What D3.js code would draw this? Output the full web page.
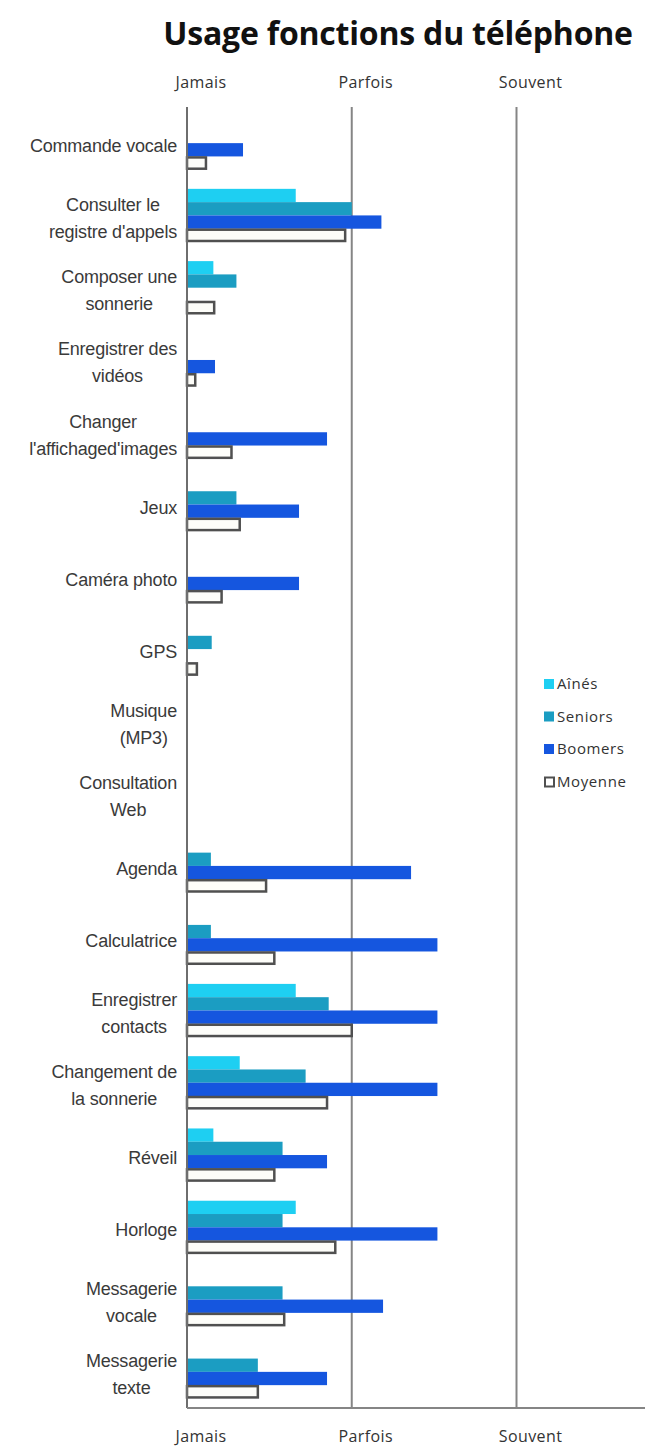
<!DOCTYPE html>
<html><head><meta charset="utf-8">
<script src="https://cdn.jsdelivr.net/npm/d3@7"></script>
<style>body{margin:0;background:#fff} svg{display:block}</style>
</head><body><svg id="c" width="645" height="1448"></svg>
<script>
const categories = [["Commande vocale"],["Consulter le","registre d'appels"],["Composer une","sonnerie"],["Enregistrer des","vidéos"],["Changer","l'affichaged'images"],["Jeux"],["Caméra photo"],["GPS"],["Musique","(MP3)"],["Consultation","Web"],["Agenda"],["Calculatrice"],["Enregistrer","contacts"],["Changement de","la sonnerie"],["Réveil"],["Horloge"],["Messagerie","vocale"],["Messagerie","texte"]];
const series = ["Aînés","Seniors","Boomers","Moyenne"];
const aines   = [0,0.66,0.16,0,0,0,0,0,0,0,0,0,0.66,0.32,0.16,0.66,0,0];
const seniors = [0,1.0,0.30,0,0,0.30,0,0.15,0,0,0.145,0.145,0.86,0.72,0.58,0.58,0.58,0.43];
const boomers = [0.34,1.18,0,0.17,0.85,0.68,0.68,0,0,0,1.36,1.52,1.52,1.52,0.85,1.52,1.19,0.85];
const moyenne = [0.115,0.96,0.165,0.05,0.27,0.32,0.21,0.06,0,0,0.48,0.53,1.0,0.85,0.53,0.90,0.59,0.43];
const tickValues = [0,1,2];
const tickLabels = ["Jamais","Parfois","Souvent"];
const chartTitle = "Usage fonctions du téléphone";

(function(){
const values = [aines, seniors, boomers, moyenne];
const colors = ["#1ecff2","#1b9dc2","#1556df","#ffffff"];

const svg = d3.select("#c");
const pL = 187, pR = 645, pT = 107, pB = 1408;
const x = d3.scaleLinear().domain([0, 2.78]).range([pL, pR]);
const y = d3.scaleBand().domain(d3.range(categories.length)).range([pT, pB]);
const ys = d3.scaleBand().domain(d3.range(series.length)).range([0, y.bandwidth()]).paddingOuter(0.72);

svg.append("text").attr("x", 398).attr("y", 45).attr("text-anchor","middle")
  .style("font-family","'Open Sans'").style("font-weight","bold").style("font-size","32px").style("fill","#111")
  .style("letter-spacing","-0.2px")
  .text(chartTitle);

svg.selectAll("line.grid").data(tickValues.slice(1)).join("line").attr("class","grid")
  .attr("x1", d=>x(d)).attr("x2", d=>x(d)).attr("y1", pT).attr("y2", pB)
  .attr("stroke","#858585").attr("stroke-width",2);

const g = svg.append("g");
categories.forEach((c, i) => {
  series.forEach((s, j) => {
    const v = values[j][i];
    const y0 = y(i) + ys(j);
    if (j < 3) {
      if (v > 0) g.append("rect").attr("x", x(0)).attr("y", y0).attr("width", x(v)-x(0)).attr("height", ys.bandwidth()).attr("fill", colors[j]);
    } else {
      g.append("rect").attr("x", x(0)).attr("y", y0+1).attr("width", Math.max(0, x(v)-x(0))).attr("height", ys.bandwidth()-2)
        .attr("fill","#fdfdf9").attr("stroke","#505050").attr("stroke-width",2.5);
    }
  });
});

svg.append("line").attr("x1", x(0)).attr("x2", x(0)).attr("y1", pT).attr("y2", pB).attr("stroke","#6e6e6e").attr("stroke-width",2);
svg.append("line").attr("x1", x(0)).attr("x2", pR).attr("y1", pB).attr("y2", pB).attr("stroke","#858585").attr("stroke-width",2);

[88, 1442].forEach(yy => {
  svg.append("g").selectAll("text").data(tickValues).join("text")
    .attr("x", d=>x(d)+14).attr("y", yy).attr("text-anchor","middle")
    .style("font-family","'Open Sans'").style("font-size","16px").style("letter-spacing","0.4px").style("fill","#333")
    .text((d,i)=>tickLabels[i]);
});

const labelRight = 177;
categories.forEach((lines, i) => {
  const cy = y(i) + y.bandwidth()/2;
  const t = svg.append("g");
  const lh = 27;
  const texts = lines.map((l, k) => t.append("text")
    .attr("y", cy + (k - (lines.length-1)/2)*lh + 9)
    .style("font-family","'Liberation Sans'").style("font-size","18px").style("fill","#3a3a3a")
    .style("letter-spacing","-0.2px")
    .text(l));
  const widths = texts.map(tx => tx.node().getComputedTextLength());
  const maxW = d3.max(widths);
  const cx = labelRight - maxW/2;
  texts.forEach(tx => tx.attr("x", cx).attr("text-anchor","middle"));
});

const lg = svg.append("g");
series.forEach((s, j) => {
  const ly = 684 + j*32.5;
  if (j < 3) lg.append("rect").attr("x", 544).attr("y", ly-5).attr("width", 10).attr("height", 10).attr("fill", colors[j]);
  else lg.append("rect").attr("x", 545).attr("y", ly-4).attr("width", 9).attr("height", 9).attr("fill","#fff").attr("stroke","#505050").attr("stroke-width",2);
  lg.append("text").attr("x", 557).attr("y", ly+5).style("font-family","'Open Sans'").style("font-size","15px").style("letter-spacing","0.6px").style("fill","#333").text(s);
});
})();
</script></body></html>
